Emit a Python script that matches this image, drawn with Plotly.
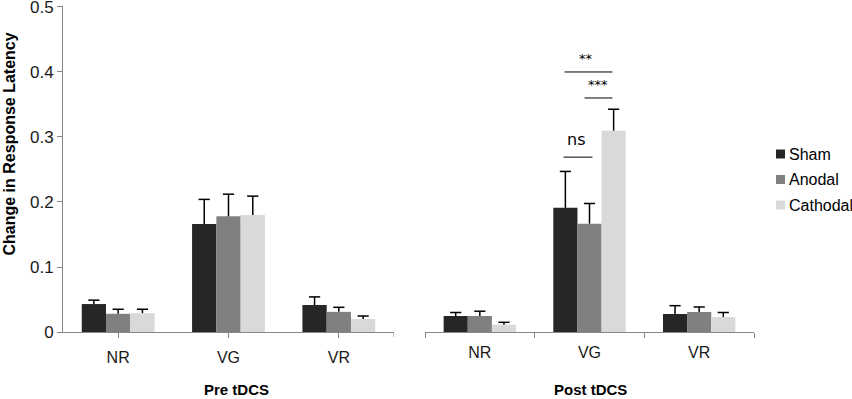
import plotly.graph_objects as go

categories = ["NR", "VG", "VR"]
series = ["Sham", "Anodal", "Cathodal"]
colors = ["#262626", "#808080", "#d9d9d9"]

pre_sham = [0.043, 0.166, 0.0415]
pre_anodal = [0.028, 0.178, 0.031]
pre_cathodal = [0.029, 0.180, 0.020]
pre_sham_err = [0.006, 0.038, 0.0125]
pre_anodal_err = [0.007, 0.034, 0.007]
pre_cathodal_err = [0.006, 0.029, 0.0046]

post_sham = [0.0246, 0.191, 0.0277]
post_anodal = [0.0246, 0.1667, 0.0308]
post_cathodal = [0.0113, 0.3097, 0.023]
post_sham_err = [0.0054, 0.056, 0.0128]
post_anodal_err = [0.0074, 0.031, 0.0077]
post_cathodal_err = [0.0036, 0.033, 0.007]

group_labels = ["Pre tDCS", "Post tDCS"]
y_ticks = [0, 0.1, 0.2, 0.3, 0.4, 0.5]
y_tick_text = ["0", "0.1", "0.2", "0.3", "0.4", "0.5"]

fig = go.Figure()

panels = [
    ("x", [pre_sham, pre_anodal, pre_cathodal],
     [pre_sham_err, pre_anodal_err, pre_cathodal_err]),
    ("x2", [post_sham, post_anodal, post_cathodal],
     [post_sham_err, post_anodal_err, post_cathodal_err]),
]

for xa, vals, errs in panels:
    for i, name in enumerate(series):
        fig.add_trace(go.Bar(
            x=categories, y=vals[i], name=name, marker_color=colors[i],
            marker_line_width=0, xaxis=xa, yaxis="y", showlegend=False,
        ))
    # one-sided error bars (upper whisker only, cap at the top)
    for i, name in enumerate(series):
        tops = [v + e for v, e in zip(vals[i], errs[i])]
        fig.add_trace(go.Scatter(
            x=categories, y=tops, mode="markers", xaxis=xa, yaxis="y",
            showlegend=False, hoverinfo="skip", cliponaxis=False,
            marker=dict(symbol="line-ew", size=8, color="black",
                        line=dict(color="black", width=1.5)),
            error_y=dict(type="data", symmetric=False, array=[0] * 3,
                         arrayminus=errs[i], color="black", thickness=1.5,
                         width=0),
        ))

W, H = 852, 399
ml, mr, mt, mb = 63, 98, 6, 67
ymax = 0.5015
pw = W - ml - mr
ph = H - mt - mb
pre_dom = [0, (394 - ml) / pw]
post_dom = [(425 - ml) / pw, 1]

axis_gray = "#868686"
font_family = "Liberation Sans, Arial"
xtickfont = dict(family=font_family, size=16, color="#1a1a1a")
ytickfont = dict(family=font_family, size=17, color="#1a1a1a")

fig.update_layout(
    width=W, height=H,
    margin=dict(l=ml, r=mr, t=mt, b=mb, autoexpand=False),
    paper_bgcolor="white", plot_bgcolor="white",
    barmode="group", bargap=0.34, bargroupgap=0,
    scattermode="group", scattergap=0.34,
    showlegend=False,
    xaxis=dict(domain=pre_dom, anchor="y", showline=True, linecolor=axis_gray,
               linewidth=1, ticks="outside", ticklen=5, tickcolor=axis_gray,
               tickson="labels", showgrid=False, tickfont=xtickfont,
               ticklabelstandoff=6, automargin=False,
               range=[-0.5, 2.5], fixedrange=True),
    xaxis2=dict(domain=post_dom, anchor="y", showline=True, linecolor=axis_gray,
                linewidth=1, ticks="outside", ticklen=5, tickcolor=axis_gray,
                tickson="boundaries", showgrid=False, tickfont=xtickfont,
                ticklabelstandoff=6, automargin=False,
                range=[-0.5, 2.5], fixedrange=True),
    yaxis=dict(range=[0, ymax], showline=True, linecolor=axis_gray, linewidth=1,
               ticks="outside", ticklen=5, tickcolor=axis_gray, showgrid=False,
               zeroline=False, tickvals=y_ticks, ticktext=y_tick_text,
               tickfont=ytickfont, automargin=False, fixedrange=True,
               ticklabeloverflow="allow"),
)

# end tick on pre axis
fig.add_shape(type="line", xref="x", yref="paper", x0=2.5, x1=2.5, y0=0,
              y1=-5 / ph, line=dict(color=axis_gray, width=1))

# y-axis title
fig.add_annotation(text="<b>Change in Response Latency</b>", textangle=-90,
                   xref="paper", yref="paper", x=(-2 - ml) / pw, y=(332 - 144) / ph,
                   xanchor="left", yanchor="middle", showarrow=False,
                   font=dict(family=font_family, size=16, color="black"))

# group labels
for lab, xc in zip(group_labels, [236, 590]):
    fig.add_annotation(text="<b>" + lab + "</b>", xref="paper", yref="paper",
                       x=(xc - ml) / pw, y=-(389 - 332) / ph,
                       xanchor="center", yanchor="middle", showarrow=False,
                       font=dict(family=font_family, size=15, color="black"))

# manual legend
for i, name in enumerate(series):
    yc = 154 + 25.5 * i
    fig.add_shape(type="rect", xref="paper", yref="paper",
                  x0=(776 - ml) / pw, x1=(785 - ml) / pw,
                  y0=(332 - yc - 4.5) / ph, y1=(332 - yc + 4.5) / ph,
                  fillcolor=colors[i], line=dict(width=0))
    fig.add_annotation(text=name, xref="paper", yref="paper",
                       x=(787 - ml) / pw, y=(332 - yc) / ph,
                       xanchor="left", yanchor="middle", showarrow=False,
                       font=dict(family=font_family, size=16, color="black"))

# significance markers (Post VG)
sig_lines = [(0.764, 1.027, 0.269), (0.773, 1.209, 0.400), (0.955, 1.209, 0.360)]
for x0, x1, yv in sig_lines:
    fig.add_shape(type="line", xref="x2", yref="y", x0=x0, x1=x1, y0=yv, y1=yv,
                  line=dict(color="black", width=1))
sig_text = [("ns", 0.88, 0.296, 16), ("**", 0.97, 0.4215, 13), ("***", 1.08, 0.3815, 13)]
for t, xv, yv, fs in sig_text:
    fig.add_annotation(text=t, xref="x2", yref="y", x=xv, y=yv, showarrow=False,
                       xanchor="center", yanchor="middle",
                       font=dict(family="DejaVu Sans, Verdana", size=fs, color="black"))

fig.write_html("out.html", config={"displayModeBar": False},
               post_script="document.body.style.margin='0px';")
